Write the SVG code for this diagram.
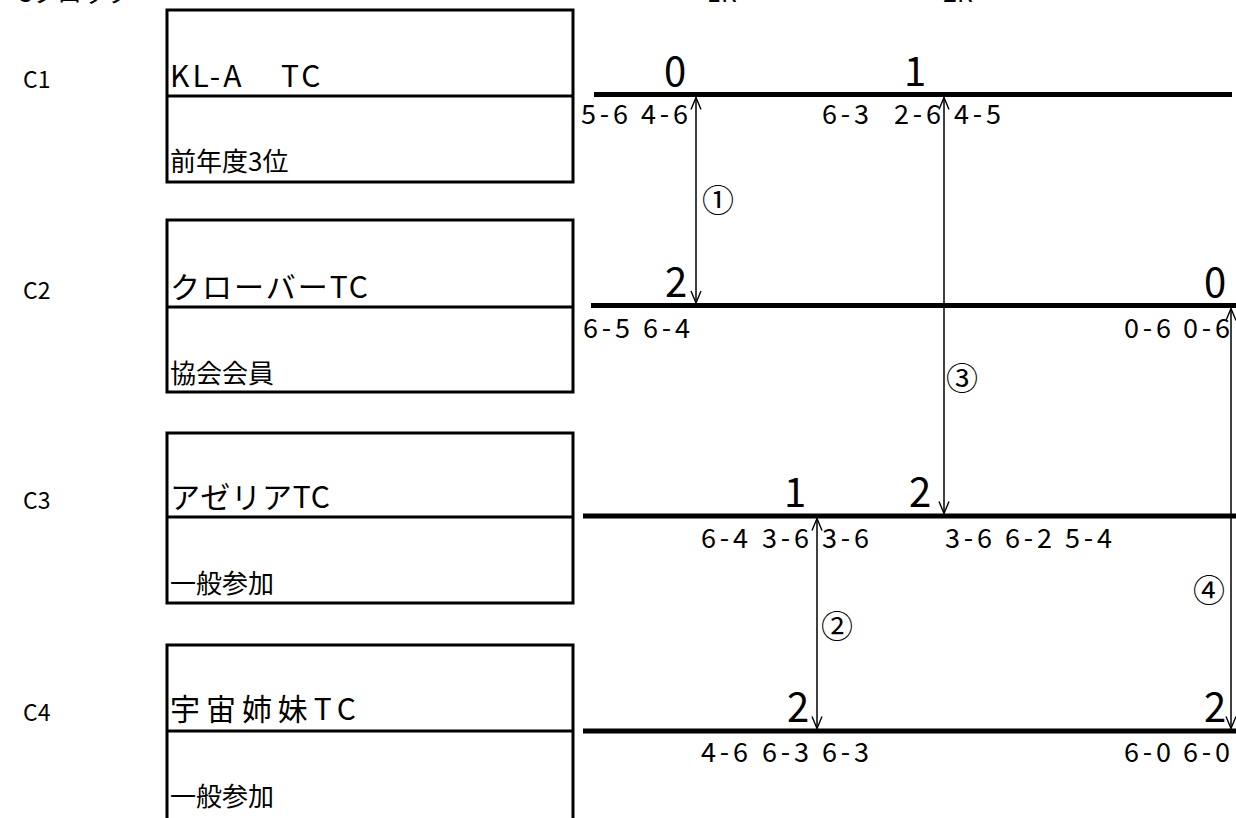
<svg xmlns="http://www.w3.org/2000/svg" width="1236" height="818" viewBox="0 0 1236 818">
<style>
text{font-family:"Noto Sans CJK JP","Liberation Sans",sans-serif;fill:#000}
.hdr{font-size:25px}
.cl{font-size:23px}
.nm{font-size:30px}
.bt{font-size:26px}
.big{font-size:40px;text-anchor:middle}
.sc{font-size:27px}
.num{font-size:32px}
.box{fill:none;stroke:#000;stroke-width:3}
.div{stroke:#000;stroke-width:3}
.bar{stroke:#000;stroke-width:5}
.con{stroke:#000;stroke-width:1.5;fill:none;marker-start:url(#ah);marker-end:url(#ah)}
</style>
<defs>
<marker id="ah" markerUnits="userSpaceOnUse" viewBox="-14 -7 16 14" refX="0" refY="0" markerWidth="16" markerHeight="14" orient="auto-start-reverse">
<path d="M-12,-5 L0,0 L-12,5" fill="none" stroke="#000" stroke-width="1.4"/>
</marker>
</defs>
<rect width="1236" height="818" fill="#fff"/>
<g id="header">
<text class="hdr" x="16" y="2">Cブロック</text>
<text class="hdr" x="707" y="2">1R</text>
<text class="hdr" x="943" y="2">2R</text>
</g>
<g id="team-C1">
<text class="cl" x="23" y="88">C1</text>
<rect class="box" x="167" y="10" width="406" height="172"/>
<line class="div" x1="167" y1="96" x2="573" y2="96"/>
<text class="nm" x="170" y="87" letter-spacing="3">KL-A <tspan x="281">TC</tspan></text>
<text class="bt" x="170" y="171">前年度3位</text>
</g>
<g id="team-C2">
<text class="cl" x="23" y="299">C2</text>
<rect class="box" x="167" y="220" width="406" height="172"/>
<line class="div" x1="167" y1="307" x2="573" y2="307"/>
<text class="nm" x="170" y="298" textLength="198">クローバーTC</text>
<text class="bt" x="170" y="383">協会会員</text>
</g>
<g id="team-C3">
<text class="cl" x="23" y="509">C3</text>
<rect class="box" x="167" y="433" width="406" height="170"/>
<line class="div" x1="167" y1="517" x2="573" y2="517"/>
<text class="nm" x="170" y="508" textLength="160">アゼリアTC</text>
<text class="bt" x="170" y="593">一般参加</text>
</g>
<g id="team-C4">
<text class="cl" x="23" y="721">C4</text>
<rect class="box" x="167" y="645" width="406" height="190"/>
<line class="div" x1="167" y1="731" x2="573" y2="731"/>
<text class="nm" x="170" y="720" textLength="186">宇宙姉妹TC</text>
<text class="bt" x="170" y="806">一般参加</text>
</g>
<g id="bracket-lines">
<line class="bar" x1="594" y1="94.5" x2="1232" y2="94.5"/>
<line class="bar" x1="591" y1="305.5" x2="1236" y2="305.5"/>
<line class="bar" x1="583" y1="516" x2="1236" y2="516"/>
<line class="bar" x1="583" y1="731" x2="1236" y2="731"/>
</g>
<g id="results">
<text class="big" x="675" y="86">0</text>
<text class="big" x="915" y="86">1</text>
<text class="big" x="676" y="297">2</text>
<text class="big" x="1215" y="297">0</text>
<text class="big" x="795" y="507">1</text>
<text class="big" x="920" y="507">2</text>
<text class="big" x="798" y="722">2</text>
<text class="big" x="1215" y="722">2</text>
</g>
<g id="scores">
<text class="sc" x="581" y="124" textLength="47">5-6</text>
<text class="sc" x="641" y="124" textLength="47">4-6</text>
<text class="sc" x="822" y="124" textLength="47">6-3</text>
<text class="sc" x="894" y="124" textLength="47">2-6</text>
<text class="sc" x="954" y="124" textLength="47">4-5</text>
<text class="sc" x="583" y="338" textLength="47">6-5</text>
<text class="sc" x="643" y="338" textLength="47">6-4</text>
<text class="sc" x="1124" y="338" textLength="47">0-6</text>
<text class="sc" x="1183" y="338" textLength="47">0-6</text>
<text class="sc" x="701" y="548" textLength="47">6-4</text>
<text class="sc" x="762" y="548" textLength="47">3-6</text>
<text class="sc" x="822" y="548" textLength="47">3-6</text>
<text class="sc" x="945" y="548" textLength="47">3-6</text>
<text class="sc" x="1005" y="548" textLength="47">6-2</text>
<text class="sc" x="1065" y="548" textLength="47">5-4</text>
<text class="sc" x="701" y="762" textLength="47">4-6</text>
<text class="sc" x="762" y="762" textLength="47">6-3</text>
<text class="sc" x="822" y="762" textLength="47">6-3</text>
<text class="sc" x="1124" y="762" textLength="47">6-0</text>
<text class="sc" x="1183" y="762" textLength="47">6-0</text>
</g>
<g id="connectors">
<line class="con" x1="696" y1="97.5" x2="696" y2="303"/>
<line class="con" x1="817" y1="518.5" x2="817" y2="728.5"/>
<line class="con" x1="944" y1="97.5" x2="944" y2="513.5"/>
<line class="con" x1="1231" y1="308.5" x2="1231" y2="728.5"/>
</g>
<g id="match-labels">
<text class="num" x="702" y="212">①</text>
<text class="num" x="821" y="638">②</text>
<text class="num" x="946" y="390">③</text>
<text class="num" x="1193" y="602">④</text>
</g>
</svg>
